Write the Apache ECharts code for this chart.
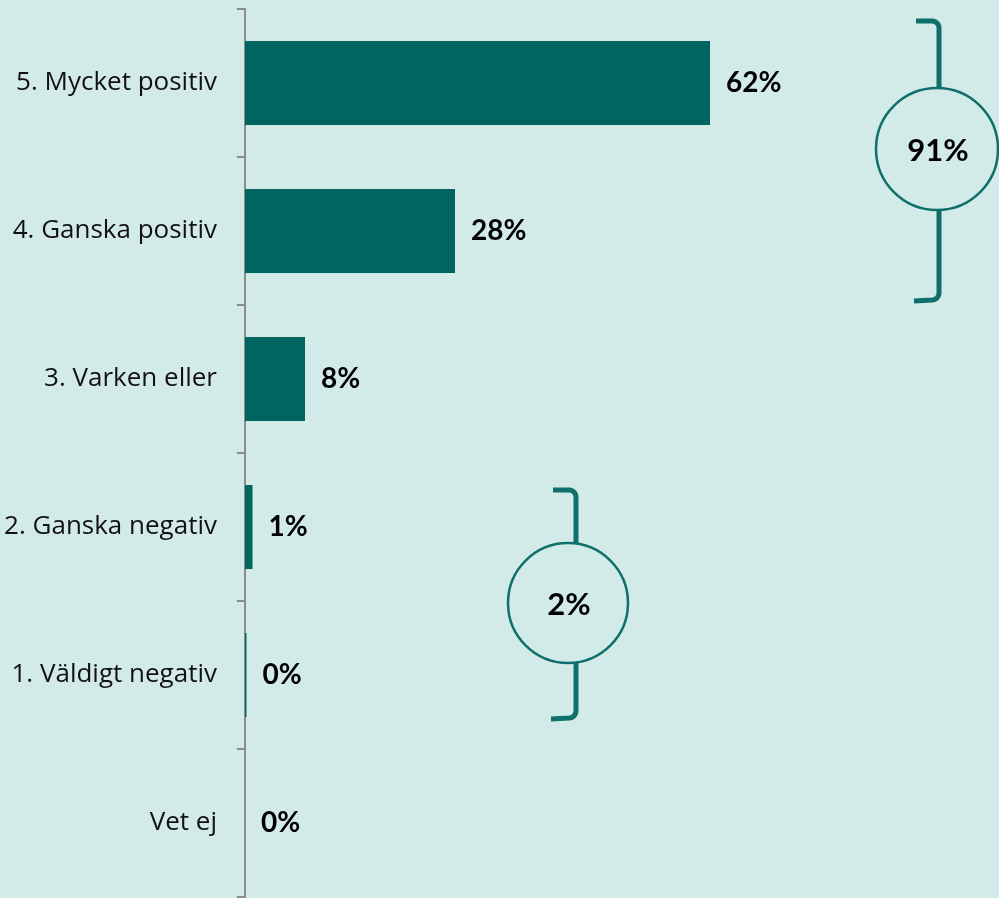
<!DOCTYPE html>
<html>
<head>
<meta charset="utf-8">
<script src="https://cdn.jsdelivr.net/npm/echarts@6/dist/echarts.min.js"></script>
<style>
html, body { margin: 0; padding: 0; background: #d3ebe8; }
#main { width: 999px; height: 898px; }
</style>
</head>
<body>
<div id="main"></div>
<script>
var categories = ["5. Mycket positiv", "4. Ganska positiv", "3. Varken eller", "2. Ganska negativ", "1. Väldigt negativ", "Vet ej"];
var values = [62, 28, 8, 1, 0.2, 0];
var labels = ["62%", "28%", "8%", "1%", "0%", "0%"];
var groupTexts = ["91%", "2%"];

var teal = "#006461";
var ring = "#0f6f6b";

var myChart = echarts.init(document.getElementById('main'));

// rundat hörn som punkter
function corner(cx, cy, r, a0, a1) {
    var pts = [];
    for (var i = 0; i <= 6; i++) {
        var a = (a0 + (a1 - a0) * i / 6) * Math.PI / 180;
        pts.push([cx + r * Math.cos(a), cy + r * Math.sin(a)]);
    }
    return pts;
}

// hakparentes med ring i mitten
function bracket(x, y1, y2, cx, cy, r, text) {
    var rr = 7;
    var top = [[x - 23, y1]].concat(corner(x - rr, y1 + rr, rr, -90, 0), [[x, cy - r]]);
    var bot = [[x, cy + r]].concat(corner(x - rr, y2 - rr, rr, 0, 90), [[x - 25, y2 + 1]]);
    return [{
        type: 'polyline',
        shape: { points: top },
        style: { stroke: ring, lineWidth: 5, fill: null }
    }, {
        type: 'polyline',
        shape: { points: bot },
        style: { stroke: ring, lineWidth: 5, fill: null }
    }, {
        type: 'circle',
        shape: { cx: cx, cy: cy, r: r },
        style: { stroke: ring, lineWidth: 2.5, fill: null }
    }, {
        type: 'text',
        x: cx + 1, y: cy + 2,
        style: {
            text: text, fill: '#000', font: 'bold 31px Lato',
            align: 'center', verticalAlign: 'middle'
        }
    }];
}

var option = {
    backgroundColor: '#d3ebe8',
    animation: false,
    grid: { left: 245, right: 4, top: 9, bottom: 1 },
    xAxis: {
        type: 'value', min: 0, max: 100,
        show: false
    },
    yAxis: {
        type: 'category',
        inverse: true,
        data: categories,
        axisLine: { show: true, lineStyle: { color: '#8c8c8c', width: 2 } },
        axisTick: { show: true, length: 8, lineStyle: { color: '#8c8c8c', width: 2 } },
        axisLabel: { margin: 28, color: '#111', fontSize: 26, fontFamily: 'Open Sans' }
    },
    series: [{
        type: 'bar',
        data: values,
        barWidth: 84,
        itemStyle: { color: teal },
        label: {
            show: true, position: 'right', distance: 16,
            color: '#000', fontSize: 28, fontWeight: 'bold', fontFamily: 'Lato',
            formatter: function (p) { return labels[p.dataIndex]; }
        }
    }],
    graphic: bracket(939, 21, 300, 937, 149, 61, groupTexts[0])
        .concat(bracket(576, 490, 718, 568, 603, 60, groupTexts[1]))
};
myChart.setOption(option);
</script>
</body>
</html>
